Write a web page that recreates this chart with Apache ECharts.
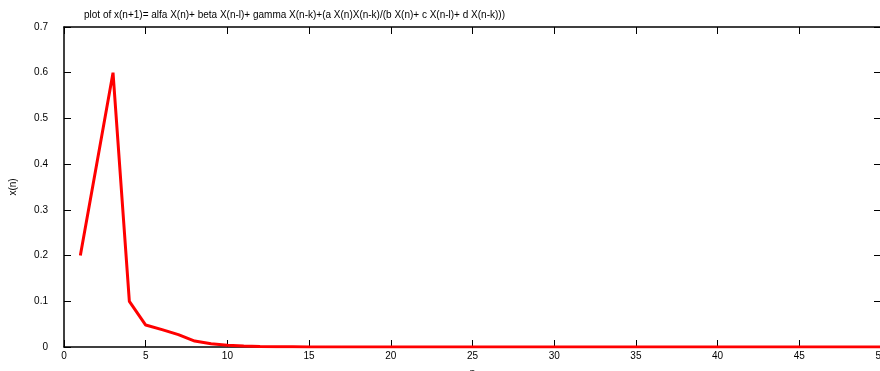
<!DOCTYPE html>
<html>
<head>
<meta charset="utf-8">
<script src="https://cdn.jsdelivr.net/npm/echarts@6/dist/echarts.min.js"></script>
<style>
html, body { margin: 0; padding: 0; background: #fff; }
#chart { width: 880px; height: 371px; }
</style>
</head>
<body>
<div id="chart"></div>
<script>
// Iterates of the difference equation, n = 1..50
const nValues = [1, 2, 3, 4, 5, 6, 7, 8, 9, 10, 11, 12, 13, 14, 15, 16, 17, 18, 19, 20,
  21, 22, 23, 24, 25, 26, 27, 28, 29, 30, 31, 32, 33, 34, 35, 36, 37, 38, 39, 40,
  41, 42, 43, 44, 45, 46, 47, 48, 49, 50];
const xValues = [0.2, 0.4, 0.6, 0.1, 0.048, 0.038, 0.027, 0.013, 0.007, 0.004, 0.002, 0.001, 0.0006, 0.0004, 0.0002, 0.0001, 0.00006, 0.00003, 0.00002, 0.00001,
  0, 0, 0, 0, 0, 0, 0, 0, 0, 0, 0, 0, 0, 0, 0, 0, 0, 0, 0, 0,
  0, 0, 0, 0, 0, 0, 0, 0, 0, 0];
const titleText = 'plot of x(n+1)= alfa X(n)+ beta X(n-l)+ gamma X(n-k)+(a X(n)X(n-k)/(b X(n)+ c X(n-l)+ d X(n-k)))';

const FONT = 'Liberation Sans';
const chart = echarts.init(document.getElementById('chart'), null, { renderer: 'canvas' });

const axisLine = { show: true, onZero: false, lineStyle: { color: '#000', width: 1.5 } };
const tick = { show: true, inside: true, length: 7, lineStyle: { color: '#000', width: 1 } };

chart.setOption({
  animation: false,
  backgroundColor: '#fff',
  title: {
    text: titleText,
    left: 79,
    top: 5,
    textStyle: { fontFamily: FONT, fontSize: 10, fontWeight: 'normal', color: '#000' }
  },
  grid: { left: 64, top: 27, width: 817, height: 320, containLabel: false, outerBoundsMode: 'none' },
  xAxis: [
    {
      type: 'value', min: 0, max: 50, interval: 5,
      name: 'n', nameLocation: 'middle', nameGap: 21,
      nameTextStyle: { fontFamily: FONT, fontSize: 10, color: '#000' },
      axisLine: axisLine, axisTick: tick, splitLine: { show: false },
      axisLabel: { fontFamily: FONT, fontSize: 10, color: '#000', margin: 4, showMaxLabel: true }
    },
    {
      type: 'value', position: 'top', min: 0, max: 50, interval: 5,
      axisLine: axisLine, axisTick: tick, splitLine: { show: false },
      axisLabel: { show: false }
    }
  ],
  yAxis: [
    {
      type: 'value', min: 0, max: 0.7, interval: 0.1,
      name: 'x(n)', nameLocation: 'middle', nameGap: 46, nameRotate: 90,
      nameTextStyle: { fontFamily: FONT, fontSize: 10, color: '#000' },
      axisLine: axisLine, axisTick: tick, splitLine: { show: false },
      axisLabel: { fontFamily: FONT, fontSize: 10, color: '#000', margin: 16,
        formatter: v => (Math.round(v * 10) / 10).toString() }
    },
    {
      type: 'value', position: 'right', min: 0, max: 0.7, interval: 0.1,
      axisLine: axisLine, axisTick: tick, splitLine: { show: false },
      axisLabel: { show: false }
    }
  ],
  series: [{
    type: 'line',
    data: nValues.map((n, i) => [n, xValues[i]]),
    showSymbol: false,
    clip: true,
    lineStyle: { color: '#ff0000', width: 3 },
    itemStyle: { color: '#ff0000' }
  }]
});
</script>
</body>
</html>
